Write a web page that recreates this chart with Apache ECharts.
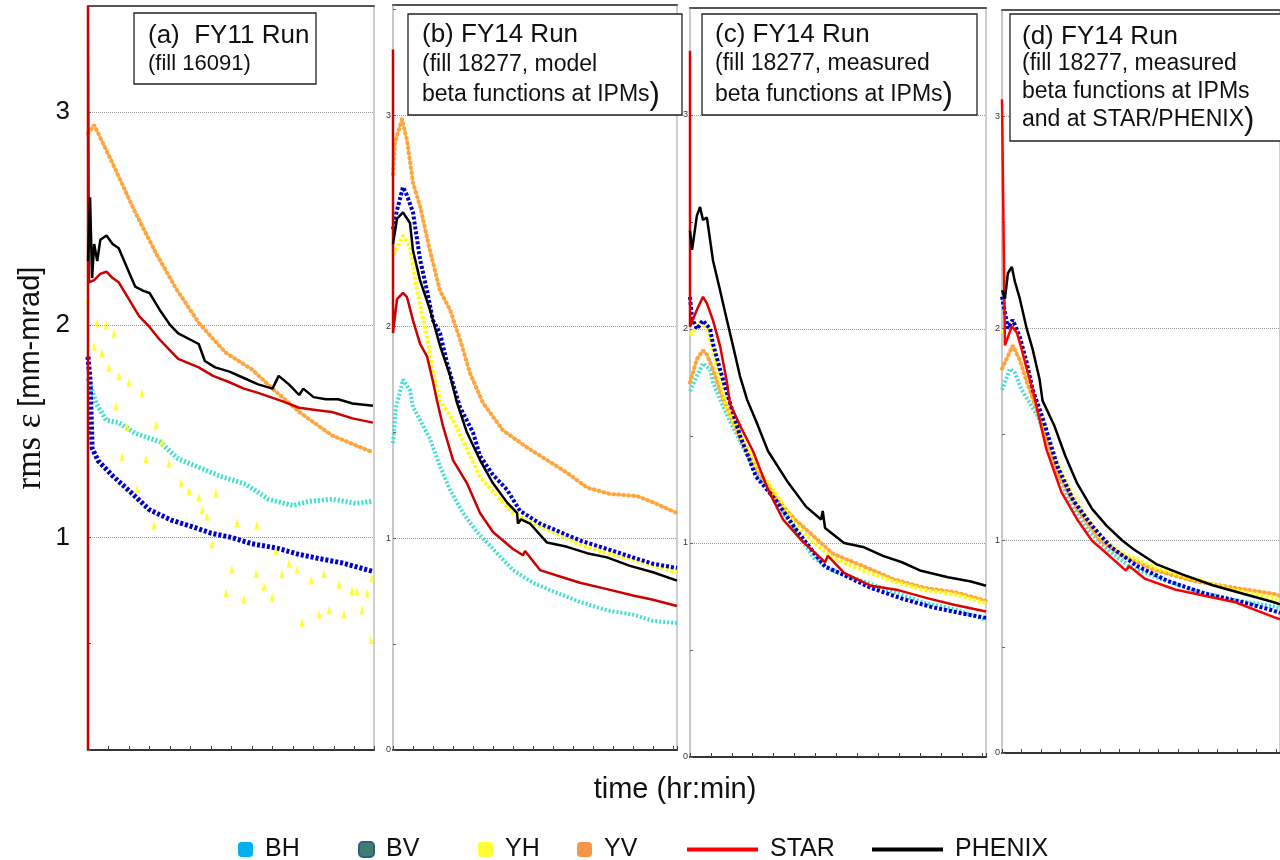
<!DOCTYPE html>
<html>
<head>
<meta charset="utf-8">
<title>rms emittance</title>
<script src="https://cdn.jsdelivr.net/npm/echarts@6/dist/echarts.min.js"></script>
<style>
html, body { margin: 0; padding: 0; background: #fff; }
#main { width: 1280px; height: 860px; }
</style>
</head>
<body>
<div id="main"></div>
<script>
// emittance data, [time (tick units), rms eps mm-mrad]

// (a) FY11, fill 16091
var aBH = [[0,1.75],[0.4,1.63],[0.9,1.55],[1.5,1.54],[2.3,1.49],[3.5,1.45],[4.4,1.37],[5.4,1.33],[6.4,1.29],[7.7,1.25],[8.8,1.18],[10.0,1.15],[10.8,1.17],[11.9,1.18],[13.1,1.16],[13.9,1.17]];
var aBV = [[0,1.85],[0.1,1.74],[0.2,1.42],[0.5,1.36],[1.2,1.29],[2.0,1.22],[3.0,1.13],[4.1,1.08],[5.1,1.05],[6.0,1.02],[7.0,1.00],[8.0,0.97],[9.2,0.95],[10.3,0.92],[11.3,0.90],[12.4,0.88],[13.9,0.84]];
var aYH = [[0,2.12],[0.3,1.90],[0.44,2.01],[0.68,1.87],[0.88,2.00],[1.02,1.80],[1.27,1.96],[1.37,1.62],[1.51,1.76],[1.66,1.38],[1.9,1.52],[2.0,1.73],[2.39,1.23],[2.63,1.68],[2.83,1.37],[3.22,1.06],[3.32,1.53],[3.61,1.45],[3.95,1.35],[4.54,1.26],[4.93,1.22],[5.41,1.19],[5.56,1.13],[5.8,1.10],[6.05,0.97],[6.24,1.21],[6.73,0.74],[7.02,0.85],[7.27,1.07],[7.61,0.71],[8.2,0.83],[8.24,1.06],[8.59,0.77],[8.98,0.72],[9.17,0.94],[9.46,0.83],[9.8,0.88],[10.2,0.85],[10.44,0.60],[10.88,0.80],[11.27,0.64],[11.51,0.83],[11.76,0.66],[12.24,0.78],[12.49,0.64],[12.88,0.75],[13.12,0.75],[13.37,0.66],[13.61,0.74],[13.8,0.52],[13.85,0.81]];
var aYV = [[0,2.90],[0.3,2.94],[0.7,2.86],[1.2,2.76],[2.3,2.53],[3.3,2.34],[4.3,2.17],[5.4,2.01],[6.7,1.87],[8.0,1.79],[9.0,1.70],[10.3,1.59],[11.9,1.48],[13.9,1.40]];
var aSTAR = [[0,0],[0,3.5],[0.05,2.20],[0.3,2.21],[0.6,2.24],[0.9,2.25],[1.2,2.22],[1.5,2.20],[2.0,2.12],[2.5,2.04],[3.0,1.99],[3.5,1.93],[4.0,1.88],[4.4,1.84],[5.4,1.80],[6.1,1.76],[6.9,1.73],[7.6,1.70],[8.3,1.68],[9.5,1.64],[10.3,1.61],[11.1,1.60],[11.9,1.59],[12.9,1.56],[13.9,1.54]];
var aPHENIX = [[0,2.30],[0.1,2.60],[0.2,2.22],[0.3,2.38],[0.45,2.30],[0.6,2.40],[0.9,2.42],[1.2,2.38],[1.5,2.36],[1.9,2.27],[2.3,2.18],[2.7,2.16],[3.0,2.15],[3.5,2.07],[4.0,2.00],[4.4,1.96],[5.0,1.93],[5.4,1.91],[5.7,1.83],[6.2,1.80],[6.9,1.78],[7.6,1.75],[8.3,1.72],[9.0,1.70],[9.3,1.76],[9.8,1.72],[10.3,1.67],[10.5,1.70],[11.0,1.66],[11.6,1.65],[12.2,1.65],[12.9,1.63],[13.9,1.62]];

// (b) FY14, fill 18277, model beta
var bBH = [[0,1.45],[0.15,1.62],[0.5,1.75],[0.85,1.70],[1.0,1.62],[1.35,1.56],[1.85,1.47],[2.35,1.34],[2.85,1.23],[3.5,1.12],[4.2,1.03],[5.0,0.95],[6.0,0.85],[7.0,0.79],[8.0,0.75],[9.35,0.70],[10.7,0.66],[12.0,0.64],[13.0,0.61],[14.2,0.60]];
var bBV = [[0,2.46],[0.2,2.55],[0.5,2.66],[0.7,2.62],[1.0,2.54],[1.35,2.32],[1.7,2.17],[2.0,2.03],[2.35,1.97],[2.7,1.83],[3.0,1.73],[3.35,1.62],[4.0,1.50],[4.35,1.39],[5.0,1.30],[5.7,1.23],[6.35,1.13],[7.35,1.07],[8.35,1.03],[9.35,0.99],[10.7,0.95],[12.0,0.91],[13.0,0.88],[14.2,0.86]];
var bYH = [[0,2.34],[0.5,2.43],[0.85,2.38],[1.2,2.17],[1.7,1.95],[2.0,1.78],[2.35,1.65],[3.0,1.56],[3.7,1.42],[4.35,1.29],[5.0,1.22],[6.0,1.12],[7.0,1.07],[8.0,1.03],[9.35,0.97],[10.7,0.93],[12.0,0.90],[13.0,0.87],[14.2,0.84]];
var bYV = [[0,2.72],[0.1,2.87],[0.45,2.98],[0.7,2.88],[1.0,2.68],[1.35,2.57],[1.85,2.36],[2.35,2.17],[2.85,2.08],[3.35,1.94],[3.85,1.78],[4.5,1.64],[5.5,1.51],[6.7,1.43],[7.7,1.37],[8.7,1.31],[9.7,1.24],[10.85,1.21],[12.2,1.20],[13.0,1.17],[14.2,1.12]];
var bSTAR = [[0,3.31],[0,1.97],[0.2,2.13],[0.5,2.16],[0.7,2.14],[1.0,2.03],[1.35,1.92],[1.7,1.86],[2.0,1.74],[2.2,1.65],[2.5,1.53],[3.0,1.37],[3.7,1.26],[4.35,1.12],[5.0,1.03],[6.0,0.95],[6.5,0.92],[6.6,0.94],[7.35,0.85],[8.35,0.82],[9.35,0.79],[10.7,0.76],[12.0,0.73],[13.0,0.71],[14.2,0.68]];
var bPHENIX = [[0,2.39],[0.2,2.51],[0.5,2.54],[0.85,2.49],[1.0,2.36],[1.35,2.22],[1.85,2.08],[2.35,1.91],[2.85,1.77],[3.2,1.64],[3.7,1.50],[4.35,1.37],[5.0,1.26],[5.7,1.17],[6.2,1.12],[6.25,1.07],[6.4,1.09],[6.85,1.07],[7.7,0.98],[8.7,0.96],[9.7,0.93],[10.7,0.91],[11.85,0.87],[13.0,0.84],[14.2,0.80]];

// (c) FY14, fill 18277, measured beta at IPMs
var cBH = [[0,1.71],[0.33,1.78],[0.62,1.84],[0.96,1.81],[1.1,1.75],[1.44,1.67],[1.91,1.57],[2.63,1.43],[3.16,1.33],[4.11,1.19],[5.02,1.06],[5.93,0.93],[6.84,0.87],[8.33,0.82],[9.76,0.77],[11.24,0.72],[12.68,0.69],[14.16,0.64]];
var cBV = [[0,2.15],[0.1,2.05],[0.33,2.00],[0.62,2.04],[0.96,2.00],[1.1,1.93],[1.44,1.81],[1.77,1.70],[2.4,1.50],[3.16,1.31],[4.11,1.20],[5.02,1.07],[6.12,0.93],[6.46,0.89],[7.37,0.85],[8.66,0.79],[10.14,0.74],[11.58,0.70],[13.06,0.67],[14.16,0.65]];
var cYH = [[0,1.97],[0.48,2.03],[0.81,2.00],[1.1,1.90],[1.44,1.76],[1.72,1.64],[2.44,1.50],[3.16,1.36],[4.11,1.23],[5.02,1.09],[5.93,1.00],[6.84,0.93],[8.33,0.87],[9.76,0.82],[11.24,0.78],[12.68,0.76],[14.16,0.72]];
var cYV = [[0,1.75],[0.33,1.86],[0.62,1.90],[0.81,1.88],[1.1,1.81],[1.44,1.71],[1.77,1.63],[2.44,1.48],[3.16,1.35],[4.11,1.21],[5.02,1.11],[6.84,0.95],[8.33,0.89],[9.76,0.83],[11.24,0.79],[12.68,0.77],[14.16,0.73]];
var cSTAR = [[0,3.30],[0,2.01],[0.33,2.09],[0.62,2.15],[0.81,2.12],[1.1,2.04],[1.44,1.92],[1.77,1.75],[1.91,1.65],[2.44,1.54],[3.01,1.43],[3.73,1.25],[4.45,1.11],[5.36,1.01],[6.46,0.91],[6.6,0.94],[7.37,0.86],[8.66,0.80],[9.95,0.78],[11.43,0.74],[12.68,0.71],[14.16,0.68]];
var cPHENIX = [[0,2.46],[0.1,2.37],[0.33,2.53],[0.48,2.57],[0.62,2.51],[0.81,2.52],[1.1,2.32],[1.44,2.18],[1.77,2.04],[2.06,1.92],[2.39,1.78],[2.73,1.67],[3.16,1.57],[3.73,1.43],[4.64,1.29],[5.55,1.17],[6.27,1.11],[6.35,1.15],[6.46,1.07],[7.37,1.00],[8.33,0.98],[9.23,0.94],[10.14,0.91],[11.05,0.87],[12.34,0.84],[13.44,0.82],[14.16,0.80]];

// (d) FY14, fill 18277, measured beta at IPMs and STAR/PHENIX
var dBH = [[0,1.71],[0.4,1.81],[0.66,1.79],[1.01,1.71],[1.87,1.58],[2.68,1.35],[3.43,1.19],[4.39,1.05],[5.35,0.96],[6.52,0.88],[8.08,0.82],[10.0,0.76],[11.92,0.72],[13.89,0.69],[14.2,0.68]];
var dBV = [[0,2.15],[0.3,2.00],[0.55,2.04],[0.91,1.96],[1.26,1.84],[1.57,1.71],[2.07,1.58],[2.83,1.35],[3.64,1.19],[4.6,1.07],[5.56,0.97],[6.92,0.88],[8.48,0.81],[10.4,0.75],[12.32,0.71],[13.89,0.67],[14.2,0.66]];
var dYH = [[0,1.98],[0.4,2.04],[0.66,2.02],[1.01,1.92],[1.41,1.76],[2.27,1.51],[3.03,1.32],[4.04,1.15],[5.0,1.02],[6.16,0.94],[7.88,0.87],[9.8,0.82],[11.77,0.77],[13.89,0.73],[14.2,0.72]];
var dYV = [[0,1.81],[0.3,1.87],[0.55,1.92],[0.91,1.85],[1.26,1.75],[2.07,1.54],[2.83,1.32],[3.84,1.15],[5.0,1.00],[6.16,0.93],[7.88,0.86],[9.8,0.81],[11.77,0.78],[13.89,0.75],[14.2,0.74]];
var dSTAR = [[0,3.08],[0.15,1.92],[0.5,2.01],[0.76,1.98],[1.01,1.90],[1.26,1.81],[1.57,1.71],[2.27,1.43],[3.03,1.23],[3.84,1.10],[4.6,1.00],[5.35,0.94],[6.31,0.86],[6.5,0.88],[7.32,0.82],[8.84,0.77],[10.4,0.74],[11.92,0.71],[13.89,0.64],[14.2,0.63]];
var dPHENIX = [[0,2.18],[0.15,2.14],[0.3,2.26],[0.5,2.29],[0.66,2.22],[0.91,2.14],[1.26,2.00],[1.57,1.90],[1.92,1.76],[2.07,1.66],[2.68,1.54],[3.23,1.40],[3.84,1.27],[4.6,1.15],[5.35,1.07],[6.16,1.00],[6.72,0.96],[7.88,0.89],[9.24,0.84],[10.76,0.79],[12.32,0.75],[13.89,0.71],[14.2,0.70]];

var yTicks = [0, 1, 2, 3];

var panels = [
  {BH: aBH, BV: aBV, YH: aYH, YV: aYV, STAR: aSTAR, PHENIX: aPHENIX},
  {BH: bBH, BV: bBV, YH: bYH, YV: bYV, STAR: bSTAR, PHENIX: bPHENIX},
  {BH: cBH, BV: cBV, YH: cYH, YV: cYV, STAR: cSTAR, PHENIX: cPHENIX},
  {BH: dBH, BV: dBV, YH: dYH, YV: dYV, STAR: dSTAR, PHENIX: dPHENIX}
];

var FONT = 'Liberation Sans';
var grids = [
  {left: 88, top: 6, width: 286, height: 744},
  {left: 393, top: 5, width: 284, height: 745},
  {left: 690, top: 8, width: 296, height: 749},
  {left: 1002, top: 10, width: 281, height: 743}
];
var xMax = [13.95, 14.2, 14.16, 14.2];
var yMax = [3.5, 3.52, 3.5, 3.5];
var starColor = ['#cc0000', '#cc0000', '#dd0000', '#ff0000'];

var chart = echarts.init(document.getElementById('main'));

var xAxes = [], yAxes = [], series = [];

grids.forEach(function (g, i) {
  g.show = true;
  g.borderColor = '#cfcfcf';
  g.borderWidth = 2;
  g.backgroundColor = '#fff';

  xAxes.push({
    gridIndex: i, type: 'value', min: 0, max: xMax[i], interval: 1,
    axisLine: {show: true, onZero: false, lineStyle: {color: '#333', width: 2}},
    axisTick: {show: true, inside: true, length: 4, lineStyle: {color: '#444'}},
    axisLabel: {show: false},
    splitLine: {show: false}
  });

  var big = i === 0;
  yAxes.push({
    gridIndex: i, type: 'value', min: 0, max: yMax[i], interval: 1,
    axisLine: {show: true, lineStyle: {color: big ? '#c9a8f2' : '#c8c8c8', width: 2}},
    axisTick: {show: true, length: 3, inside: true, lineStyle: {color: '#666'}},
    minorTick: {show: true, splitNumber: 2, length: 3, lineStyle: {color: '#666'}},
    axisLabel: {
      show: true,
      showMaxLabel: false,
      margin: big ? 18 : 2,
      fontSize: big ? 26 : 9,
      fontFamily: FONT,
      color: big ? '#111' : '#333',
      formatter: function (v) {
        if (yTicks.indexOf(v) < 0) return '';
        if (big && v === 0) return '';
        return String(v);
      }
    },
    splitLine: {show: true, showMinLine: false, showMaxLine: false,
      lineStyle: {color: '#9a9a9a', type: 'dotted', width: 1}},
    name: big ? '{s|rms \u03b5}  {b|[mm-mrad]}' : '',
    nameLocation: 'middle',
    nameRotate: 90,
    nameGap: 40,
    nameTextStyle: {
      rich: {
        s: {fontFamily: 'Liberation Serif', fontSize: 35, color: '#111'},
        b: {fontFamily: FONT, fontSize: 29, color: '#111'}
      }
    }
  });

  var p = panels[i];
  function line(name, data, color, width, type, cap, z) {
    series.push({
      name: name, type: 'line', xAxisIndex: i, yAxisIndex: i,
      data: data, showSymbol: false, symbol: 'none', animation: false,
      itemStyle: {color: color},
      lineStyle: {color: color, width: width, type: type, cap: cap || 'butt'},
      z: z
    });
  }
  line('BH', p.BH, '#40e0d0', big ? 5 : 4, [2, 2], null, 2);
  line('YV', p.YV, '#ffa53d', 4, [1, 4], 'round', 2);
  if (big) {
    series.push({
      name: 'YH', type: 'scatter', xAxisIndex: i, yAxisIndex: i,
      data: p.YH, symbol: 'triangle', symbolSize: [5, 9], animation: false,
      itemStyle: {color: '#ffff00'}, z: 3
    });
  } else {
    line('YH', p.YH, '#ffff00', 4, [3, 2], null, 3);
  }
  line('BV', p.BV, '#0000cc', big ? 5 : 4, [3, 2], null, 3);
  line('STAR', p.STAR, starColor[i], 2.5, 'solid', null, 4);
  line('PHENIX', p.PHENIX, '#000', 2.5, 'solid', null, 5);
});

// top frame line of each panel
grids.forEach(function (g, i) {
  xAxes.push({
    gridIndex: i, type: 'value', position: 'top', min: 0, max: xMax[i],
    axisLine: {show: true, onZero: false, lineStyle: {color: '#555', width: 2}},
    axisTick: {show: false}, axisLabel: {show: false}, splitLine: {show: false}
  });
});

var legendItems = [
  {name: 'BH', left: 233, icon: 'roundRect', w: 15, h: 15, style: {color: '#00b0f0'}},
  {name: 'BV', left: 353, icon: 'roundRect', w: 15, h: 15, style: {color: '#3d7f6a', borderColor: '#36578f', borderWidth: 2}},
  {name: 'YH', left: 473, icon: 'roundRect', w: 15, h: 15, style: {color: '#ffff00'}},
  {name: 'YV', left: 572, icon: 'roundRect', w: 15, h: 15, style: {color: '#f79646'}},
  {name: 'STAR', left: 682, icon: 'rect', w: 71, h: 4, style: {color: '#ff0000'}},
  {name: 'PHENIX', left: 867, icon: 'rect', w: 71, h: 4, style: {color: '#000'}}
];
var legends = legendItems.map(function (it) {
  return {
    left: it.left, top: 832, orient: 'horizontal', selectedMode: false,
    itemWidth: it.w, itemHeight: it.h,
    data: [{name: it.name, icon: it.icon, itemStyle: it.style}],
    textStyle: {fontFamily: FONT, fontSize: 25, color: '#111', padding: [0, 0, 0, 7]}
  };
});

// the boxed panel captions
function box(x, y, w, h, tx, lines) {
  var els = [{type: 'rect', shape: {x: x, y: y, width: w, height: h},
    style: {fill: '#fff', stroke: '#222', lineWidth: 1.3}, z: 100}];
  lines.forEach(function (ln) {
    els.push({type: 'text', x: tx, y: ln.y, z: 101,
      style: {text: ln.t, fontFamily: FONT, fontSize: ln.s, fill: '#111',
        verticalAlign: 'middle', rich: {p: {fontSize: 31, fontFamily: FONT, fill: '#111'}}}});
  });
  return els;
}

var graphics = [].concat(
  box(134, 13, 182, 71, 148, [
    {t: '(a)  FY11 Run', y: 36, s: 26},
    {t: '(fill 16091)', y: 64, s: 22}
  ]),
  box(408, 14, 274, 101, 422, [
    {t: '(b) FY14 Run', y: 35, s: 26},
    {t: '(fill 18277, model', y: 65, s: 23},
    {t: 'beta functions at IPMs{p|)}', y: 95, s: 23}
  ]),
  box(702, 14, 275, 101, 715, [
    {t: '(c) FY14 Run', y: 35, s: 26},
    {t: '(fill 18277, measured', y: 64, s: 23},
    {t: 'beta functions at IPMs{p|)}', y: 95, s: 23}
  ]),
  box(1010, 14, 274, 127, 1022, [
    {t: '(d) FY14 Run', y: 37, s: 26},
    {t: '(fill 18277, measured', y: 64, s: 23},
    {t: 'beta functions at IPMs', y: 92, s: 23},
    {t: 'and at STAR/PHENIX{p|)}', y: 120, s: 23}
  ]),
  [{type: 'text', x: 675, y: 790, z: 101,
    style: {text: 'time (hr:min)', fontFamily: FONT, fontSize: 29, fill: '#111',
      align: 'center', verticalAlign: 'middle'}}]
);

var option = {
  backgroundColor: '#fff',
  animation: false,
  grid: grids,
  xAxis: xAxes,
  yAxis: yAxes,
  legend: legends,
  graphic: graphics,
  series: series
};
chart.setOption(option);
</script>
</body>
</html>
